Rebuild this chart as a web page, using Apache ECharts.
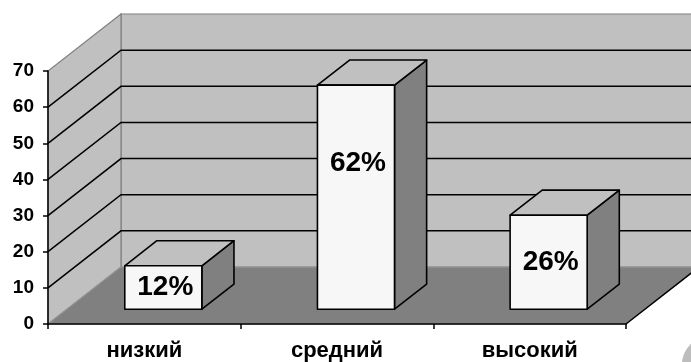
<!DOCTYPE html>
<html>
<head>
<meta charset="utf-8">
<script src="https://cdn.jsdelivr.net/npm/echarts@6/dist/echarts.min.js"></script>
<style>
  html, body { margin: 0; padding: 0; background: #fff; }
  #chart { width: 691px; height: 362px; }
</style>
</head>
<body>
<div id="chart"></div>
<script>
const categories = ["низкий", "средний", "высокий"];
const values = [12, 62, 26];
const percentLabels = ["12%", "62%", "26%"];
const yTicks = [0, 10, 20, 30, 40, 50, 60, 70];

// fake 3D: how far the back wall sits from the front plane, in px
const DX = 73, DY = -57;
const BAR_FRONT = 0.26, BAR_BACK = 0.7;
const BAR_WIDTH = 0.4;
const FONT = "'Liberation Sans', Arial, sans-serif";

const chart = echarts.init(document.getElementById("chart"));

function renderWalls(params, api) {
  const cs = params.coordSys;
  const x0 = cs.x, x1 = cs.x + cs.width;
  const yOf = (v) => api.coord([0, v])[1];
  const yb = yOf(yTicks[0]);
  const yt = yOf(yTicks[yTicks.length - 1]);
  const children = [
    {
      type: "polygon",
      shape: { points: [[x0 + DX, yt + DY], [x1 + DX, yt + DY], [x1 + DX, yb + DY], [x0 + DX, yb + DY]] },
      style: { fill: "#c0c0c0", stroke: "#808080", lineWidth: 1.2 },
    },
    {
      type: "polygon",
      shape: { points: [[x0, yb], [x0, yt], [x0 + DX, yt + DY], [x0 + DX, yb + DY]] },
      style: { fill: "#c0c0c0", stroke: "#808080", lineWidth: 1.2 },
    },
    {
      type: "polygon",
      shape: { points: [[x0, yb], [x1, yb], [x1 + DX, yb + DY], [x0 + DX, yb + DY]] },
      style: { fill: "#808080", stroke: "#999", lineWidth: 1 },
    },
    {
      type: "line",
      shape: { x1: x1, y1: yb, x2: x1 + DX, y2: yb + DY },
      style: { stroke: "#000", lineWidth: 1.5 },
    },
  ];
  yTicks.slice(1, -1).forEach((v) => {
    const y = yOf(v);
    children.push({
      type: "polyline",
      shape: { points: [[x0, y], [x0 + DX, y + DY], [x1 + DX, y + DY]] },
      style: { stroke: "#000", lineWidth: 1.5, fill: null },
    });
  });
  return { type: "group", children };
}

function renderBar(params, api) {
  const idx = api.value(0);
  const v = api.value(1);
  const base = api.coord([idx, 0]);
  const top = api.coord([idx, v]);
  const w = api.size([1, 0])[0] * BAR_WIDTH;
  const fx = DX * BAR_FRONT, fy = DY * BAR_FRONT;
  const dx = DX * (BAR_BACK - BAR_FRONT), dy = DY * (BAR_BACK - BAR_FRONT);
  const l = base[0] - w / 2 + fx, r = base[0] + w / 2 + fx;
  const t = top[1] + fy, b = base[1] + fy;
  const edge = { stroke: "#000", lineWidth: 1.6, lineJoin: "round" };
  return {
    type: "group",
    children: [
      {
        type: "polygon",
        shape: { points: [[r, t], [r + dx, t + dy], [r + dx, b + dy], [r, b]] },
        style: Object.assign({ fill: "#808080" }, edge),
      },
      {
        type: "polygon",
        shape: { points: [[l, t], [l + dx, t + dy], [r + dx, t + dy], [r, t]] },
        style: Object.assign({ fill: "#c0c0c0" }, edge),
      },
      {
        type: "rect",
        shape: { x: l, y: t, width: r - l, height: b - t },
        style: Object.assign({ fill: "#f7f7f7" }, edge),
      },
      {
        type: "text",
        style: {
          x: (l + r) / 2 + 2,
          y: t + Math.min((b - t) / 2, 78),
          text: percentLabels[params.dataIndex],
          fill: "#000",
          font: "bold 28px " + FONT,
          align: "center",
          verticalAlign: "middle",
        },
      },
    ],
  };
}

const option = {
  animation: false,
  backgroundColor: "#fff",
  grid: { left: 48, right: 65, top: 71, bottom: 37 },
  xAxis: {
    type: "category",
    data: categories,
    z: 5,
    axisLine: { lineStyle: { color: "#000", width: 1.5 } },
    axisTick: { show: true, length: 5, interval: 0, lineStyle: { color: "#000", width: 1.5 } },
    axisLabel: { color: "#000", fontFamily: FONT, fontWeight: "bold", fontSize: 22, margin: 16 },
  },
  yAxis: {
    type: "value",
    min: 0,
    max: 70,
    interval: 10,
    z: 5,
    splitLine: { show: false },
    axisLine: { show: true, lineStyle: { color: "#000", width: 1.5 } },
    axisTick: { show: true, length: 5, lineStyle: { color: "#000", width: 1.5 } },
    axisLabel: { color: "#000", fontFamily: FONT, fontWeight: "bold", fontSize: 19, margin: 14 },
  },
  graphic: [
    { type: "circle", shape: { cx: 709, cy: 364, r: 27 }, style: { fill: "#bdbdbd" } },
  ],
  series: [
    { type: "custom", z: 1, renderItem: renderWalls, data: [[0, 0]], silent: true },
    { type: "custom", z: 2, renderItem: renderBar, data: values.map((v, i) => [i, v]) },
  ],
};

chart.setOption(option);
</script>
</body>
</html>
